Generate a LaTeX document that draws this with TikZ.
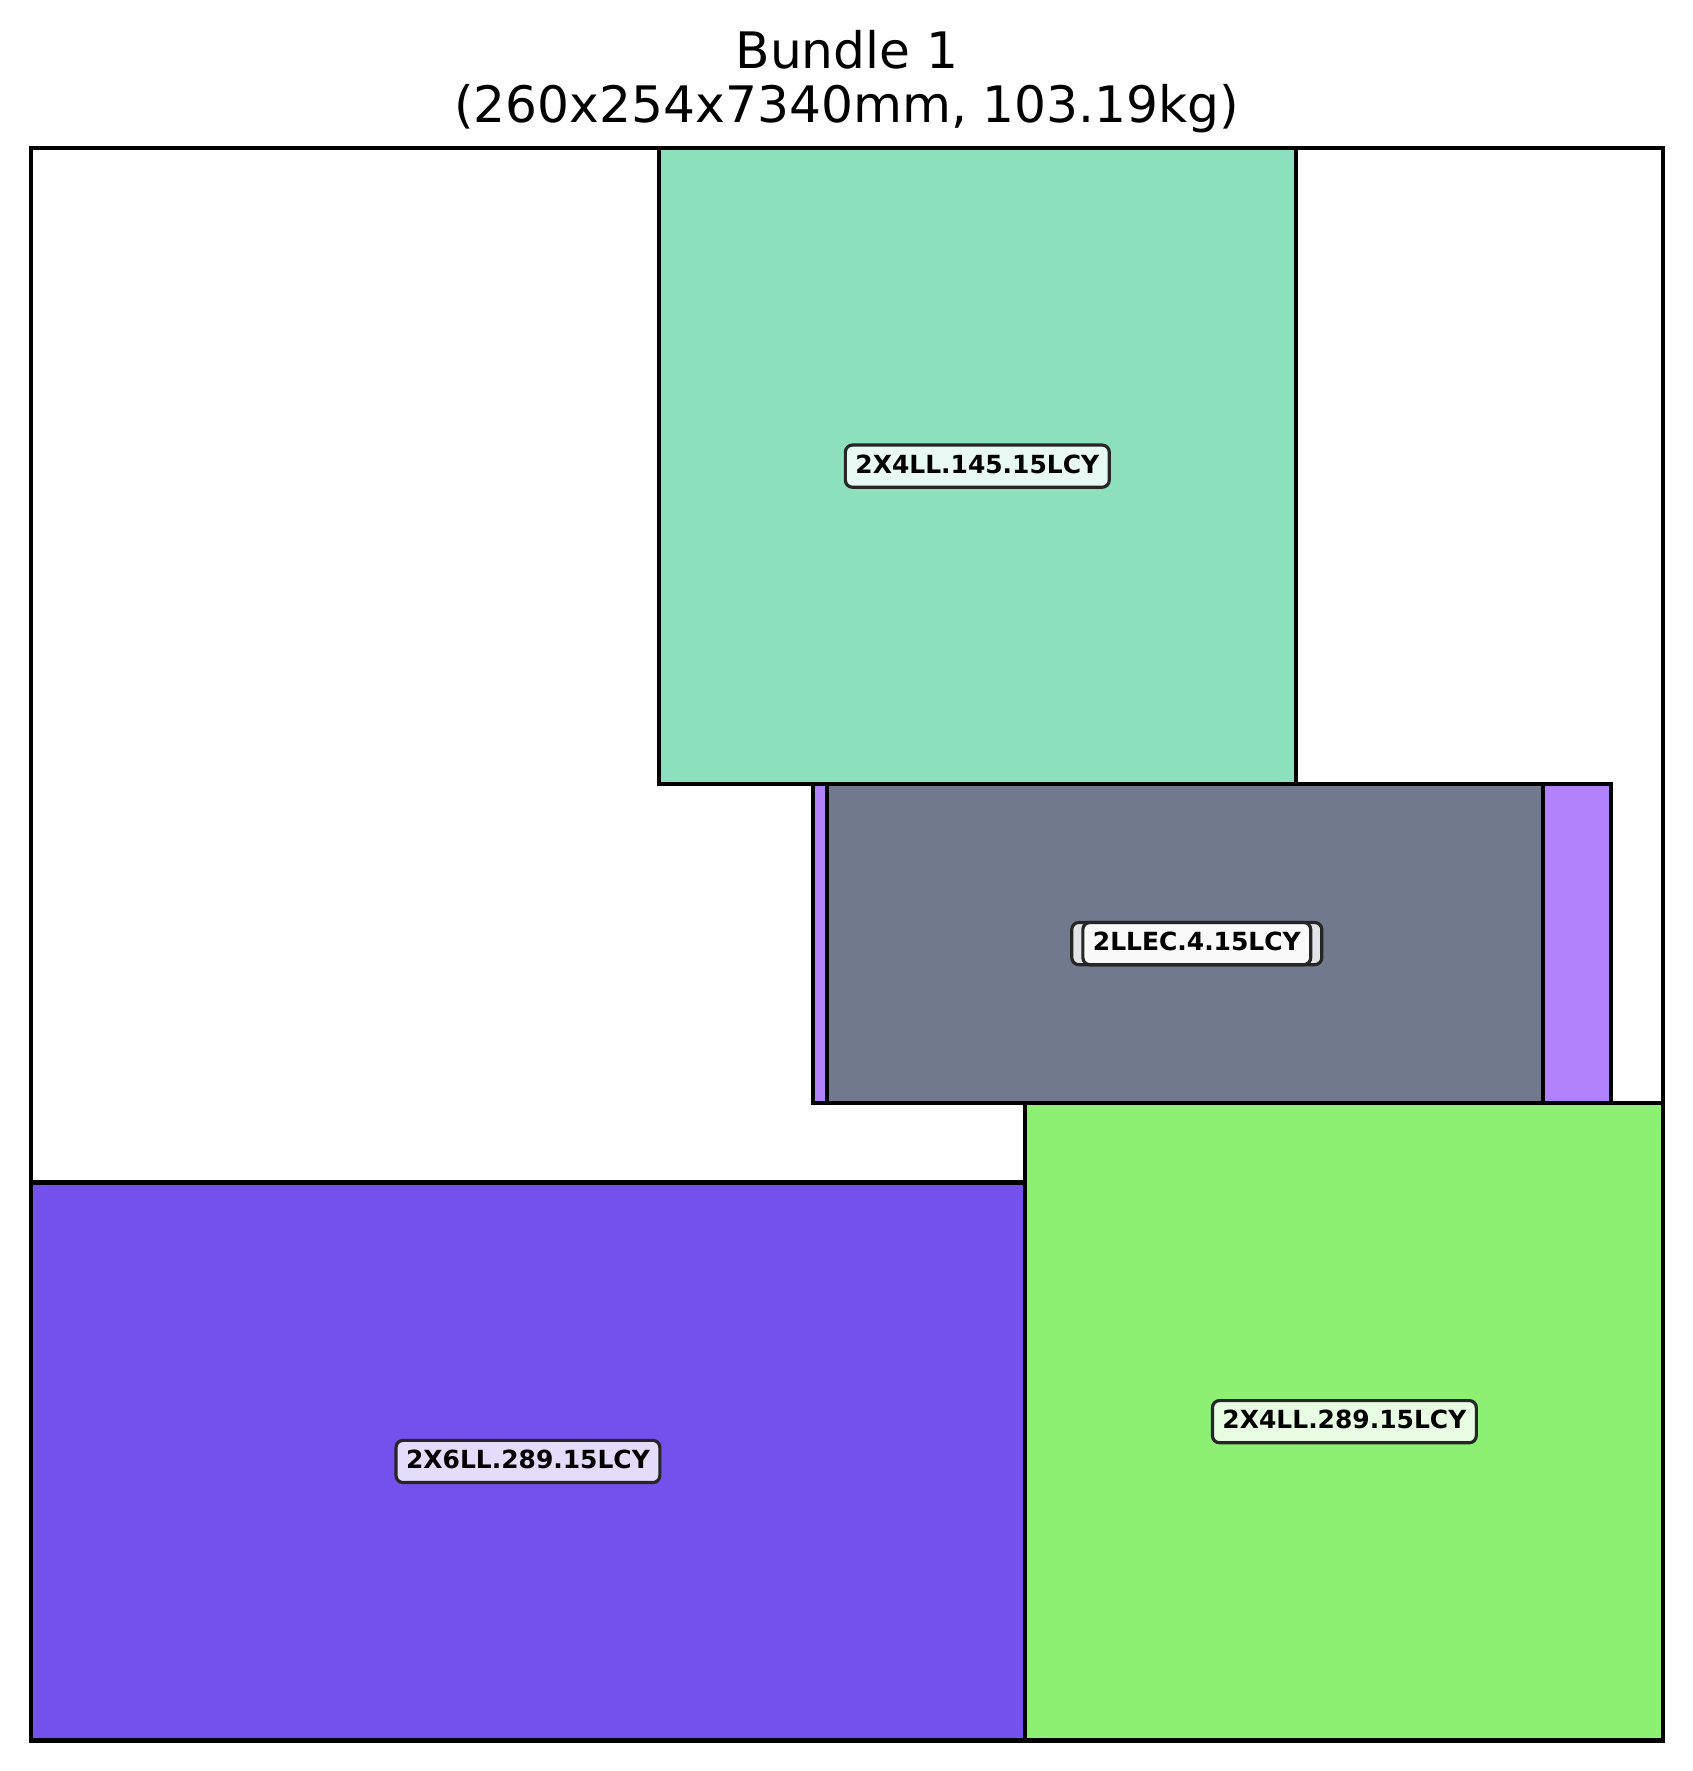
\documentclass[tikz,border=0pt]{standalone}
\usepackage{fontspec}
\setmainfont{DejaVu Sans}
\usetikzlibrary{calc}

\definecolor{tealbox}{RGB}{141,224,190}
\definecolor{slatebox}{RGB}{113,122,141}
\definecolor{lilacbox}{RGB}{177,130,251}
\definecolor{limebox}{RGB}{142,240,115}
\definecolor{indigobox}{RGB}{116,80,236}

\begin{document}
\begin{tikzpicture}[x=0.0628cm,y=0.0627cm,
  box/.style={draw=black,line width=1.15pt},
  tag node/.style={rectangle,rounded corners=2pt,draw=black!85,line width=0.9pt,
    fill=white,fill opacity=0.8,text opacity=1,inner sep=2.85pt,
    text height=5.2pt,text depth=1.1pt,font=\fontsize{7.1}{8}\selectfont\bfseries},
  title node/.style={anchor=base,font=\fontsize{14.3}{16}\selectfont}]

  \useasboundingbox (-4.86,-4.865) rectangle (264.62,277.6);

  \node[title node] (t1) at (130,266.7) {Bundle 1};
  \node[title node] (t2) at (130,258.0) {(260x254x7340mm, 103.19kg)};

  \coordinate (o1) at (0,0);
  \coordinate (o2) at (260,254);
  \coordinate (a1) at (0,0);
  \coordinate (a2) at (158.4,89);
  \coordinate (b1) at (158.4,0);
  \coordinate (b2) at (260,101.7);
  \coordinate (c1) at (124.6,101.7);
  \coordinate (c2) at (251.7,152.5);
  \coordinate (d1) at (126.8,101.7);
  \coordinate (d2) at (240.8,152.5);
  \coordinate (e1) at (100,152.5);
  \coordinate (e2) at (201.5,254);
  \coordinate (m) at (185.7,127.1);

  \draw[box,fill=white] (o1) rectangle (o2);
  \draw[box,fill=indigobox] (a1) rectangle (a2);
  \draw[box,fill=limebox] (b1) rectangle (b2);
  \draw[box,fill=lilacbox] (c1) rectangle (c2);
  \draw[box,fill=slatebox] (d1) rectangle (d2);
  \draw[box,fill=tealbox] (e1) rectangle (e2);

  \node[tag node] (1) at ($(a1)!.5!(a2)$) {2X6LL.289.15LCY};
  \node[tag node] (2) at ($(b1)!.5!(b2)$) {2X4LL.289.15LCY};
  \node[tag node,minimum width=2.5cm] (3) at (m) {2LLEC.4.15LCY};
  \node[tag node] (4) at (m) {2LLEC.4.15LCY};
  \node[tag node] (5) at ($(e1)!.5!(e2)$) {2X4LL.145.15LCY};

\end{tikzpicture}
\end{document}
